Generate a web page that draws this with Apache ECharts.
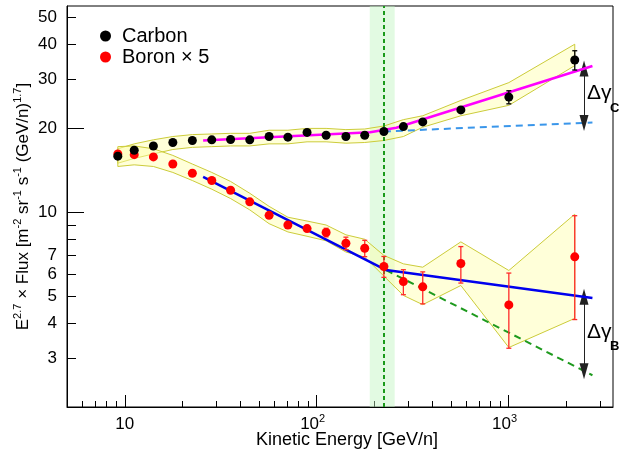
<!DOCTYPE html>
<html>
<head>
<meta charset="utf-8">
<script src="https://cdn.jsdelivr.net/npm/echarts@6/dist/echarts.min.js"></script>
<style>
  html, body { margin: 0; padding: 0; background: #fff; }
  #chart { width: 624px; height: 451px; }
</style>
</head>
<body>
<div id="chart"></div>
<script>
// kinetic energy bins [GeV/n]
var energy = [9.2, 11.2, 14.1, 17.8, 22.5, 28.4, 35.6, 44.8, 56.5, 70.8, 89.1, 112, 142, 178, 224, 283, 357, 564, 1003, 2212]
// carbon, E^2.7 x flux
var carbon = [15.9, 16.7, 17.3, 17.8, 18.1, 18.2, 18.25, 18.2, 18.7, 18.6, 19.35, 18.9, 18.7, 18.9, 19.5, 20.3, 21.1, 23.3, 25.9, 35.2]
var carbonErr = [0.15, 0.15, 0.15, 0.15, 0.15, 0.15, 0.15, 0.15, 0.15, 0.15, 0.15, 0.15, 0.2, 0.2, 0.2, 0.25, 0.3, 0.5, 1.4, 2.8]
var carbonBandLo = [15.0, 15.6, 16.2, 16.8, 17.1, 17.2, 17.3, 17.3, 17.6, 17.6, 17.9, 17.9, 17.7, 17.8, 18.1, 18.7, 20.2, 22.2, 24.2, 33.6]
var carbonBandHi = [16.9, 17.6, 18.2, 18.7, 19.0, 19.1, 19.2, 19.2, 19.7, 19.7, 20.0, 20.0, 19.8, 19.9, 20.4, 21.5, 22.2, 25.2, 29.2, 40.1]
// boron x 5
var boron = [16.2, 16.1, 15.8, 14.9, 13.8, 13.0, 12.0, 10.9, 9.75, 9.0, 8.74, 8.46, 7.74, 7.43, 6.39, 5.64, 5.40, 6.55, 4.65, 6.92]
var boronErr = [0.1, 0.1, 0.1, 0.1, 0.1, 0.1, 0.1, 0.12, 0.12, 0.15, 0.2, 0.3, 0.4, 0.5, 0.55, 0.58, 0.71, 0.98, 1.4, 2.8]
var boronBandLo = [14.6, 14.8, 14.6, 13.9, 13.0, 12.1, 11.2, 10.2, 9.1, 8.5, 8.2, 7.9, 7.2, 6.9, 5.9, 5.03, 4.66, 5.46, 3.27, 4.16]
var boronBandHi = [17.2, 17.3, 16.9, 16.0, 14.9, 13.9, 12.9, 11.7, 10.5, 9.6, 9.3, 9.0, 8.3, 8.0, 7.0, 6.53, 6.35, 7.83, 6.18, 9.84]
// fits
var carbonFitE = [25.6, 190, 260, 2735]
var carbonFit = [18.1, 19.38, 20.1, 33.5]
var carbonExtE = [224, 2735]
var carbonExt = [19.5, 21.0]
var boronFitE = [25.6, 230, 2735]
var boronFit = [13.4, 6.2, 4.92]
var boronExtE = [230, 2735]
var boronExt = [6.2, 2.6]
// spectral break and its band
var breakE = 222
var breakBand = [189, 255]
// delta gamma arrows
var arrowE = 2472
var dGammaC = [32.8, 20.9]
var dGammaB = [4.97, 2.69]
// axes
var xMin = 5, xMax = 3500
var yMin = 2, yMax = 55
var xMajor = [10, 100, 1000]
var xMinor = [6, 7, 8, 9, 20, 30, 40, 50, 60, 70, 80, 90, 200, 300, 400, 500, 600, 700, 800, 900, 2000, 3000]
var yLong = [10, 20]
var yShort = [3, 4, 5, 6, 7, 8, 9, 30, 40, 50]
var yLabels = [3, 4, 5, 6, 7, 10, 20, 30, 40, 50]

var lg = Math.log10
var font = 'Liberation Sans, Arial, sans-serif'

function pairs (xs, ys) {
  return xs.map(function (x, i) { return [lg(x), lg(ys[i])] })
}

function bandSeries (lo, hi, z) {
  return {
    type: 'custom',
    silent: true,
    z: z,
    data: [[lg(energy[0]), lg(lo[0])]],
    renderItem: function (params, api) {
      var pts = []
      energy.forEach(function (e, i) { pts.push(api.coord([lg(e), lg(hi[i])])) })
      for (var i = energy.length - 1; i >= 0; i--) pts.push(api.coord([lg(energy[i]), lg(lo[i])]))
      return {
        type: 'polygon',
        shape: { points: pts },
        style: { fill: 'rgba(255,255,170,0.45)', stroke: '#cccc3a', lineWidth: 1 }
      }
    }
  }
}

function errSeries (vals, errs, color, z) {
  return {
    type: 'custom',
    silent: true,
    z: z,
    data: energy.map(function (e, i) { return [lg(e), lg(vals[i]), lg(vals[i] - errs[i]), lg(vals[i] + errs[i])] }),
    renderItem: function (params, api) {
      var x = api.value(0)
      var p1 = api.coord([x, api.value(2)])
      var p2 = api.coord([x, api.value(3)])
      var st = { stroke: color, lineWidth: 1.3 }
      return {
        type: 'group',
        children: [
          { type: 'line', shape: { x1: p1[0], y1: p1[1], x2: p2[0], y2: p2[1] }, style: st },
          { type: 'line', shape: { x1: p1[0] - 2.5, y1: p1[1], x2: p1[0] + 2.5, y2: p1[1] }, style: st },
          { type: 'line', shape: { x1: p2[0] - 2.5, y1: p2[1], x2: p2[0] + 2.5, y2: p2[1] }, style: st }
        ]
      }
    }
  }
}

function arrowLine (vals) {
  return [{ coord: [lg(arrowE), lg(vals[0])] }, { coord: [lg(arrowE), lg(vals[1])] }]
}

var myChart = echarts.init(document.getElementById('chart'), null, { renderer: 'canvas' })

var option = {
  backgroundColor: '#fff',
  animation: false,
  textStyle: { fontFamily: font },
  grid: {
    left: 67,
    right: 11,
    top: 6,
    bottom: 44,
    show: true,
    borderColor: '#000',
    borderWidth: 1,
    containLabel: false,
    outerBoundsMode: 'none'
  },
  legend: {
    show: true,
    orient: 'vertical',
    left: 95,
    top: 21,
    icon: 'circle',
    itemWidth: 11,
    itemHeight: 11,
    itemGap: 1,
    data: ['Carbon', 'Boron × 5'],
    textStyle: { fontSize: 20, color: '#000', fontFamily: font, padding: [0, 0, 0, 6] }
  },
  xAxis: [{
    type: 'value',
    position: 'bottom',
    min: lg(xMin),
    max: lg(xMax),
    name: 'Kinetic Energy [GeV/n]',
    nameLocation: 'middle',
    nameGap: 24,
    nameMoveOverlap: false,
    nameTextStyle: { fontSize: 18, color: '#000', fontFamily: font, padding: [0, 0, 0, 14] },
    axisLine: { show: true, lineStyle: { color: '#000', width: 1 } },
    axisTick: { show: true, inside: true, length: 12, customValues: xMajor.map(lg), lineStyle: { color: '#000' } },
    axisLabel: {
      customValues: xMajor.map(lg),
      margin: 6,
      color: '#000',
      fontSize: 17,
      fontFamily: font,
      formatter: function (v) {
        var p = Math.round(v)
        return p === 1 ? '{n|10}' : '{n|10}{s|' + p + '}'
      },
      rich: {
        n: { fontSize: 17, color: '#000', fontFamily: font, lineHeight: 22 },
        s: { fontSize: 11, color: '#000', fontFamily: font, verticalAlign: 'top', lineHeight: 10, padding: [0, 8, 0, 0] }
      }
    },
    splitLine: { show: false }
  }, {
    type: 'value',
    position: 'bottom',
    min: lg(xMin),
    max: lg(xMax),
    axisLine: { show: false },
    axisTick: { show: true, inside: true, length: 6, customValues: xMinor.map(lg), lineStyle: { color: '#000' } },
    axisLabel: { show: false },
    splitLine: { show: false }
  }],
  yAxis: [{
    type: 'value',
    position: 'left',
    min: lg(yMin),
    max: lg(yMax),
    name: '{m|E}{s|2.7}{m| × Flux [m}{s|-2}{m| sr}{s|-1}{m| s}{s|-1}{m| (GeV/n)}{s|1.7}{m|]}',
    nameLocation: 'middle',
    nameRotate: 90,
    nameGap: 33,
    nameMoveOverlap: false,
    nameTextStyle: {
      fontSize: 17,
      color: '#000',
      fontFamily: font,
      lineHeight: 22,
      rich: {
        m: { fontSize: 17, color: '#000', fontFamily: font, lineHeight: 22 },
        s: { fontSize: 11, color: '#000', fontFamily: font, verticalAlign: 'top', lineHeight: 10 }
      }
    },
    axisLine: { show: true, lineStyle: { color: '#000', width: 1 } },
    axisTick: { show: true, inside: true, length: 17, customValues: yLong.map(lg), lineStyle: { color: '#000' } },
    axisLabel: {
      customValues: yLabels.map(lg),
      margin: 10,
      color: '#000',
      fontSize: 17,
      fontFamily: font,
      formatter: function (v) { return String(Math.round(Math.pow(10, v))) }
    },
    splitLine: { show: false }
  }, {
    type: 'value',
    position: 'left',
    min: lg(yMin),
    max: lg(yMax),
    axisLine: { show: false },
    axisTick: { show: true, inside: true, length: 9, customValues: yShort.map(lg), lineStyle: { color: '#000' } },
    axisLabel: { show: false },
    splitLine: { show: false }
  }],
  series: [
    bandSeries(carbonBandLo, carbonBandHi, 2),
    bandSeries(boronBandLo, boronBandHi, 2),
    {
      name: 'carbonExt',
      type: 'line',
      z: 4,
      symbol: 'none',
      silent: true,
      data: pairs(carbonExtE, carbonExt),
      lineStyle: { color: '#3a96ea', width: 2, type: [7, 5] },
      markArea: {
        silent: true,
        z: 1,
        itemStyle: { color: 'rgba(190,245,190,0.45)' },
        data: [[{ xAxis: lg(breakBand[0]) }, { xAxis: lg(breakBand[1]) }]]
      },
      markLine: {
        silent: true,
        symbol: ['none', 'none'],
        label: { show: false },
        lineStyle: { color: '#1a9a1a', width: 2, type: [4, 3] },
        data: [{ xAxis: lg(breakE) }]
      }
    },
    {
      name: 'boronExt',
      type: 'line',
      z: 4,
      symbol: 'none',
      silent: true,
      data: pairs(boronExtE, boronExt),
      lineStyle: { color: '#1e9a1e', width: 2, type: [7, 5] }
    },
    {
      name: 'carbonFit',
      type: 'line',
      z: 5,
      symbol: 'none',
      silent: true,
      data: pairs(carbonFitE, carbonFit),
      lineStyle: { color: '#ff00ff', width: 2.5 },
      markLine: {
        silent: true,
        symbol: ['triangle', 'triangle'],
        symbolSize: [9, 16],
        label: { show: false },
        lineStyle: { color: '#222', width: 1, type: 'solid' },
        itemStyle: { color: '#000' },
        data: [arrowLine(dGammaC)]
      }
    },
    {
      name: 'boronFit',
      type: 'line',
      z: 5,
      symbol: 'none',
      silent: true,
      data: pairs(boronFitE, boronFit),
      lineStyle: { color: '#0000ee', width: 2.5 },
      markLine: {
        silent: true,
        symbol: ['triangle', 'triangle'],
        symbolSize: [9, 16],
        label: { show: false },
        lineStyle: { color: '#222', width: 1, type: 'solid' },
        itemStyle: { color: '#000' },
        data: [arrowLine(dGammaB)]
      }
    },
    errSeries(boron, boronErr, '#ff2a2a', 6),
    errSeries(carbon, carbonErr, '#000', 7),
    {
      name: 'Boron × 5',
      type: 'scatter',
      z: 8,
      symbol: 'circle',
      symbolSize: 9,
      itemStyle: { color: '#ff0000', opacity: 1 },
      data: pairs(energy, boron)
    },
    {
      name: 'Carbon',
      type: 'scatter',
      z: 9,
      symbol: 'circle',
      symbolSize: 9,
      itemStyle: { color: '#000', opacity: 1 },
      data: pairs(energy, carbon)
    }
  ],
  graphic: [
    { type: 'text', left: 587, top: 83, z: 100, style: { text: 'Δγ', fontSize: 21, fill: '#000', fontFamily: font } },
    { type: 'text', left: 610, top: 102, z: 100, style: { text: 'C', fontSize: 13, fontWeight: 'bold', fill: '#000', fontFamily: font } },
    { type: 'text', left: 587, top: 322, z: 100, style: { text: 'Δγ', fontSize: 21, fill: '#000', fontFamily: font } },
    { type: 'text', left: 610, top: 340, z: 100, style: { text: 'B', fontSize: 13, fontWeight: 'bold', fill: '#000', fontFamily: font } }
  ]
}

myChart.setOption(option, true)
</script>
</body>
</html>
